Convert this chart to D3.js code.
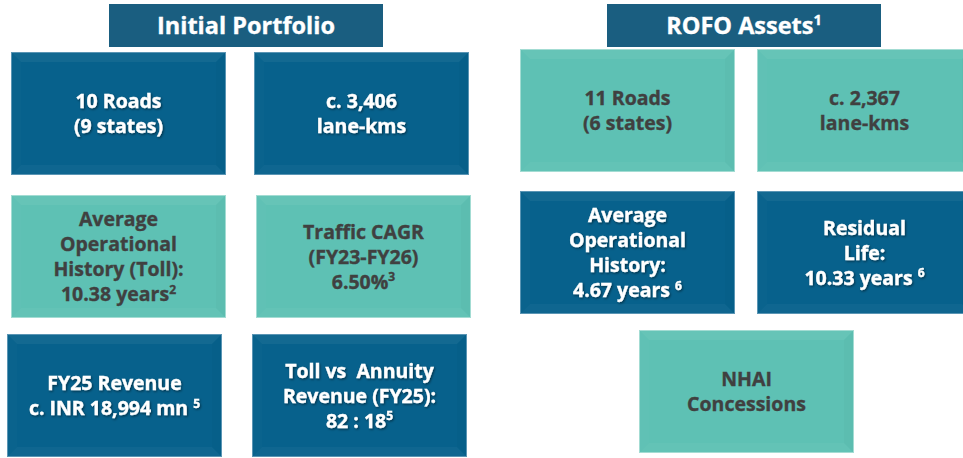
<!DOCTYPE html>
<html>
<head>
<meta charset="utf-8">
<script src="https://cdn.jsdelivr.net/npm/d3@7"></script>
<style>
  body { margin: 0; background: #fff; }
  svg { display: block; font-family: "Open Sans", sans-serif; font-weight: 700; }
  text { white-space: pre; }
</style>
</head>
<body>
<div id="chart"></div>
<script>
// panel headings ("^n" marks a superscript footnote)
const panelTitles = ["Initial Portfolio", "ROFO Assets^1"];

// Initial Portfolio boxes, read row by row
const initialLines = [
  ["10 Roads", "(9 states)"],
  ["c. 3,406", "lane-kms"],
  ["Average", "Operational", "History (Toll):", "10.38 years^2"],
  ["Traffic CAGR", "(FY23-FY26)", "6.50%^3"],
  ["FY25 Revenue", "c. INR 18,994 mn ^5"],
  ["Toll vs  Annuity", "Revenue (FY25):", "82 : 18^5"]
];
const initialTones = ["dark", "dark", "teal", "teal", "dark", "dark"];

// ROFO Assets boxes
const rofoLines = [
  ["11 Roads", "(6 states)"],
  ["c. 2,367", "lane-kms"],
  ["Average", "Operational", "History:", "4.67 years ^6"],
  ["Residual", "Life:", "10.33 years ^6"],
  ["NHAI", "Concessions"]
];
const rofoTones = ["teal", "teal", "dark", "dark", "teal"];

const width = 963, height = 458;
const boxW = 215, boxH = 123, lineH = 25;

const fills = { dark: "#07618c", teal: "#5ec1b4" };
const edges = { dark: "#5a95b4", teal: "#a3dcd3" };
const inks = { dark: "#ffffff", teal: "#404040" };

const svg = d3.select("#chart").append("svg")
    .attr("width", width)
    .attr("height", height)
    .attr("viewBox", [0, 0, width, height]);

const defs = svg.append("defs");
defs.append("filter")
    .attr("id", "shadow")
    .attr("x", "-10%").attr("y", "-10%").attr("width", "120%").attr("height", "140%")
  .append("feDropShadow")
    .attr("dx", 1).attr("dy", 1.2).attr("stdDeviation", 0.8)
    .attr("flood-color", "#000").attr("flood-opacity", 0.5);

// panel layout: rows / columns on ordinal scales
const panels = [
  {
    title: panelTitles[0],
    head: [109, 4],
    lines: initialLines,
    tones: initialTones,
    rowY: d3.scaleOrdinal([0, 1, 2], [52, 195, 334]),
    colX: [[11, 254], [11, 256], [7, 252]]
  },
  {
    title: panelTitles[1],
    head: [607, 4],
    lines: rofoLines,
    tones: rofoTones,
    rowY: d3.scaleOrdinal([0, 1, 2], [49, 191, 330]),
    colX: [[520, 757], [520, 757], [639]]
  }
];

// split "text^n" into plain + superscript runs
function parts(s) {
  const m = s.match(/^(.*?)\^(\w+)$/);
  return m ? [{ t: m[1], sup: false }, { t: m[2], sup: true }] : [{ t: s, sup: false }];
}

function writeLines(g, lines, cx, cy, size, color, shadow) {
  const n = lines.length;
  const first = cy - (n - 1) * lineH / 2 + size * 0.36;
  const text = g.append("text")
      .attr("text-anchor", "middle")
      .attr("fill", color)
      .attr("stroke", color)
      .attr("stroke-width", 0.35)
      .style("font-size", size + "px")
      .attr("filter", shadow ? "url(#shadow)" : null);
  lines.forEach((line, i) => {
    const row = text.append("tspan")
        .attr("x", cx)
        .attr("y", first + i * lineH);
    parts(line).forEach(p => {
      if (p.sup) {
        row.append("tspan")
            .attr("dy", -size * 0.38)
            .style("font-size", (size * 0.62) + "px")
            .text(p.t);
      } else {
        row.append("tspan").text(p.t);
      }
    });
  });
}

panels.forEach(p => {
  // heading bar
  const hg = svg.append("g");
  hg.append("rect")
      .attr("x", p.head[0]).attr("y", p.head[1])
      .attr("width", 274).attr("height", 43)
      .attr("fill", "#1a5e80");
  writeLines(hg, [p.title], p.head[0] + 137, p.head[1] + 21.5, 23.5, "#fff", false);

  // boxes
  let k = 0;
  p.colX.forEach((cols, r) => {
    cols.forEach(x => {
      const i = k++;
      const y = p.rowY(r);
      const tone = p.tones[i];
      const g = svg.append("g");
      g.append("rect")
          .attr("x", x).attr("y", y)
          .attr("width", boxW).attr("height", boxH)
          .attr("fill", fills[tone]);
      // soft bevel edges
      const b = 10;
      const bevel = [
        [[x, y], [x + boxW, y], [x + boxW - b, y + b], [x + b, y + b], 0.05],
        [[x, y + boxH], [x + boxW, y + boxH], [x + boxW - b, y + boxH - b], [x + b, y + boxH - b], 0.035],
        [[x, y], [x + b, y + b], [x + b, y + boxH - b], [x, y + boxH], 0.015],
        [[x + boxW, y], [x + boxW - b, y + b], [x + boxW - b, y + boxH - b], [x + boxW, y + boxH], -0.02]
      ];
      bevel.forEach(q => {
        g.append("path")
            .attr("d", d3.line()(q.slice(0, 4)) + "Z")
            .attr("fill", q[4] > 0 ? "#fff" : "#000")
            .attr("fill-opacity", Math.abs(q[4]));
      });
      g.append("rect")
          .attr("x", x + 0.5).attr("y", y + 0.5)
          .attr("width", boxW - 1).attr("height", boxH - 1)
          .attr("fill", "none")
          .attr("stroke", edges[tone]);
      writeLines(g, p.lines[i], x + boxW / 2, y + boxH / 2, 19.5, inks[tone], tone === "dark");
    });
  });
});
</script>
</body>
</html>
